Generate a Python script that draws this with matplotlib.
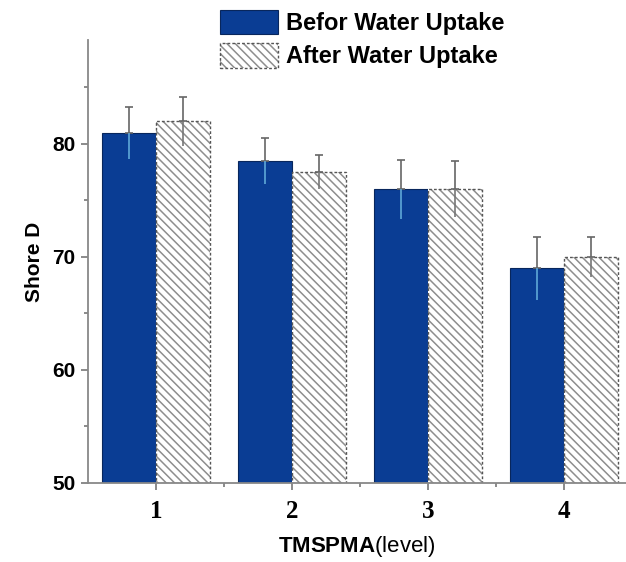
import matplotlib
matplotlib.use("Agg")
import matplotlib.pyplot as plt
import numpy as np
from matplotlib.ticker import MultipleLocator

levels = [1, 2, 3, 4]
before = [81.0, 78.5, 76.0, 69.0]
before_err = [2.3, 2.0, 2.6, 2.8]
after = [82.0, 77.5, 76.0, 70.0]
after_err = [2.2, 1.5, 2.5, 1.8]
xlabels = ["1", "2", "3", "4"]

plt.rcParams['font.family'] = ['Liberation Sans', 'DejaVu Sans']
plt.rcParams['mathtext.fontset'] = 'custom'
plt.rcParams['mathtext.bf'] = 'Liberation Sans:bold'
plt.rcParams['mathtext.rm'] = 'Liberation Sans'
plt.rcParams['hatch.linewidth'] = 1.1

fig = plt.figure(figsize=(6.26, 5.62), dpi=100)
ax = fig.add_axes([88/626, 79/562, 538/626, 443/562])

x = np.array(levels, dtype=float)
w = 0.4
blue = '#0a3d94'
b1 = ax.bar(x - w/2, [v - 50 for v in before], w, bottom=50, color=blue,
            edgecolor='#08265c', linewidth=0.8, label='Befor Water Uptake', zorder=2)
b2h = ax.bar(x + w/2, [v - 50 for v in after], w, bottom=50, color='white',
             edgecolor='#8e8e8e', linewidth=0, hatch='\\\\\\\\', zorder=2)
b2o = ax.bar(x + w/2, [v - 50 for v in after], w, bottom=50, fill=False,
             edgecolor='#555555', linewidth=1.0, linestyle=(0, (2, 1.5)), zorder=2.1)

for xs, vals, errs, low_c in [(x - w/2, before, before_err, '#5fa8d8'),
                              (x + w/2, after, after_err, '#777777')]:
    ax.errorbar(xs, vals, yerr=[np.zeros(len(errs)), errs], fmt='none',
                ecolor='#666666', elinewidth=1.2, capsize=3, capthick=1.2, zorder=3)
    ax.errorbar(xs, vals, yerr=[errs, np.zeros(len(errs))], fmt='none',
                ecolor=low_c, elinewidth=1.2, capsize=0, zorder=3)

ax.set_xlim(0.5, 4.456)
ax.set_ylim(50, 89.2)
ax.yaxis.set_major_locator(MultipleLocator(10))
ax.yaxis.set_minor_locator(MultipleLocator(5))
ax.set_xticks(x)
ax.set_xticks([1.5, 2.5, 3.5], minor=True)
ax.set_xticklabels(xlabels, fontfamily='Liberation Serif', fontweight='bold', fontsize=18)
for lab in ax.get_yticklabels():
    lab.set_fontweight('bold')
    lab.set_fontsize(15)
ax.tick_params(axis='both', which='major', direction='out', length=5, color='#777777', width=1.2)
ax.tick_params(axis='both', which='minor', direction='out', length=3, color='#777777', width=1.2)
ax.tick_params(axis='x', pad=7)
ax.tick_params(axis='y', pad=4)
for s in ['top', 'right']:
    ax.spines[s].set_visible(False)
for s in ['left', 'bottom']:
    ax.spines[s].set_color('#888888')
    ax.spines[s].set_linewidth(1.3)

ax.set_ylabel('Shore D', fontsize=15, fontweight='bold', labelpad=6)
ax.set_xlabel(r'$\mathbf{TMSPMA}$(level)', fontsize=16, labelpad=8)

leg = fig.legend(handles=[b1, (b2h[0], b2o[0])],
                 labels=['Befor Water Uptake', 'After Water Uptake'],
                 loc='upper left', bbox_to_anchor=(220/626, 1 - 10/562),
                 frameon=False, prop={'weight': 'bold', 'size': 17},
                 handlelength=2.45, handleheight=1.2, handletextpad=0.35, labelspacing=0.35,
                 borderaxespad=0, borderpad=0)

fig.savefig('out.png', dpi=100)
